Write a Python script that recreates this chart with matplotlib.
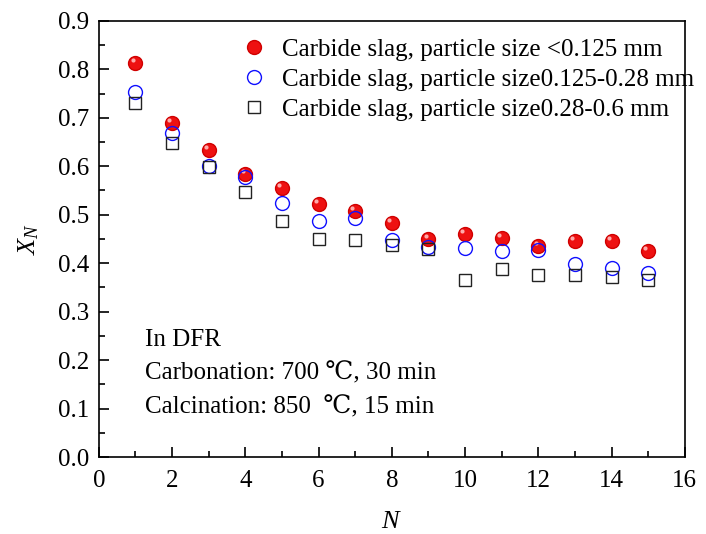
import matplotlib
matplotlib.use('Agg')
import matplotlib.pyplot as plt

plt.rcParams['font.family'] = ['Liberation Serif', 'DejaVu Serif']
plt.rcParams['mathtext.fontset'] = 'custom'
plt.rcParams['mathtext.rm'] = 'Liberation Serif'
plt.rcParams['mathtext.it'] = 'Liberation Serif:italic'

cycles = list(range(1, 16))
xn_small = [0.813, 0.689, 0.634, 0.584, 0.555, 0.522, 0.508, 0.483, 0.450, 0.460,
            0.452, 0.436, 0.446, 0.446, 0.425]
xn_mid = [0.753, 0.669, 0.601, 0.578, 0.524, 0.487, 0.493, 0.448, 0.433, 0.431,
          0.425, 0.427, 0.398, 0.390, 0.380]
xn_large = [0.731, 0.648, 0.599, 0.547, 0.487, 0.450, 0.448, 0.438, 0.429, 0.365,
            0.388, 0.376, 0.376, 0.372, 0.365]
labels = ['Carbide slag, particle size <0.125 mm',
          'Carbide slag, particle size0.125-0.28 mm',
          'Carbide slag, particle size0.28-0.6 mm']
notes = ['In DFR', 'Carbonation: 700 \u2103, 30 min', 'Calcination: 850  \u2103, 15 min']

fig = plt.figure(figsize=(7.06, 5.34), dpi=100)
ax = fig.add_axes([0.140, 0.144, 0.830, 0.817])

ax.plot(cycles, xn_small, 'o', ms=10, mfc='#ee1111', mec='#d00000', mew=1, label=labels[0])
# small highlight to mimic the shaded spheres
ax.plot(cycles, xn_small, 'o', ms=3, mfc='#ffaaaa', mec='none',
        transform=ax.transData + matplotlib.transforms.ScaledTranslation(-2/72, 2/72, fig.dpi_scale_trans))
ax.plot(cycles, xn_mid, 'o', ms=10, mfc='none', mec='#1010ff', mew=1, label=labels[1])
ax.plot(cycles, xn_large, 's', ms=8.5, mfc='none', mec='#222222', mew=1, label=labels[2])

ax.set_xlim(0, 16)
ax.set_ylim(0, 0.9)
ax.set_xticks(range(0, 17, 2))
ax.set_xticks(range(1, 16, 2), minor=True)
ax.set_yticks([i / 10 for i in range(10)])
ax.set_yticks([i / 20 for i in range(1, 18, 2)], minor=True)
ax.yaxis.set_major_formatter(matplotlib.ticker.FormatStrFormatter('%.1f'))
ax.tick_params(which='major', direction='in', length=7, width=1.2, labelsize=18, pad=7)
ax.tick_params(axis='x', which='major', pad=9)
ax.tick_params(which='minor', direction='in', length=4, width=1.2)
for s in ax.spines.values():
    s.set_linewidth(1.2)

ax.set_xlabel('$\\mathit{N}$', fontsize=19, labelpad=14)
ax.set_ylabel('$\\mathit{X}_{\\mathit{N}}$', fontsize=19, labelpad=12)

leg = ax.legend(loc='upper right', frameon=False, fontsize=18, handletextpad=0.4,
                borderaxespad=0.3, labelspacing=0.3, bbox_to_anchor=(1.045, 1.0),
                handlelength=1.4)

ax.text(1.25, 0.241, notes[0], fontsize=18, va='center', family=['Liberation Serif', 'DejaVu Serif'])
ax.text(1.25, 0.173, notes[1], fontsize=18, va='center', family=['Liberation Serif', 'DejaVu Serif'])
ax.text(1.25, 0.103, notes[2], fontsize=18, va='center', family=['Liberation Serif', 'DejaVu Serif'])

fig.savefig('out.png', dpi=100)
